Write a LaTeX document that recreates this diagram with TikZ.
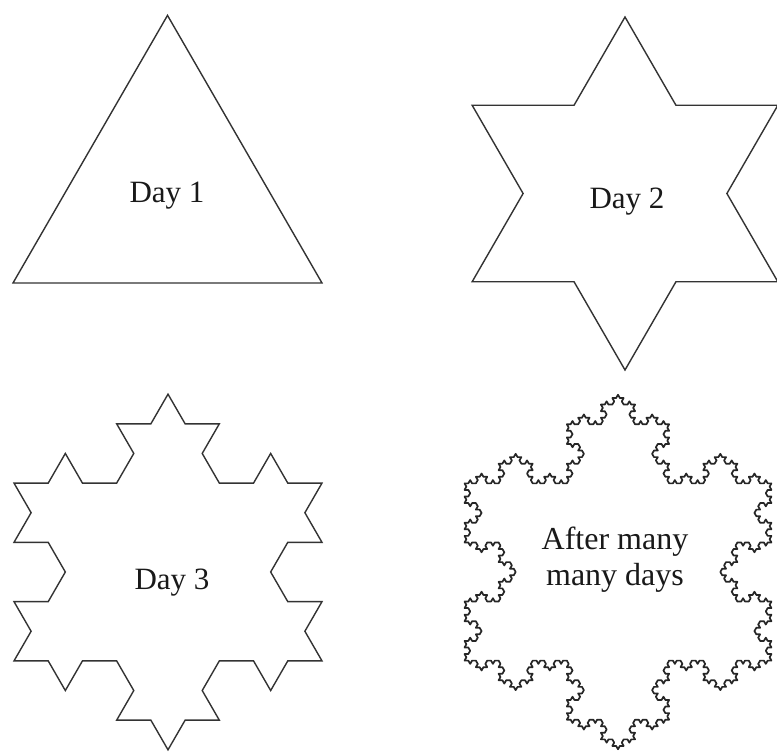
\documentclass[tikz,border=0pt]{standalone}
\usepackage{fontspec}
\setmainfont{Liberation Serif}
\usetikzlibrary{lindenmayersystems}
\pgfdeclarelindenmayersystem{Koch flake}{\rule{F -> F-F++F-F}}
\tikzset{
  flake/.style={draw=black!80, line width=1.4pt, line join=miter},
  daylabel/.style={font=\fontsize{31}{35}\selectfont, text=black!90, inner sep=0pt, align=center}
}
\begin{document}
\begin{tikzpicture}[x=1pt,y=-1pt]
\useasboundingbox[fill=white] (0,0) rectangle (777,752);
% Day 1: plain triangle
\coordinate (t1a) at (13,283);
\coordinate (t1b) at (322,283);
\coordinate (t1c) at (167.5,15.4);
\draw[flake] (t1a) -- (t1b) -- (t1c) -- cycle;
\node[daylabel] (d1) at (167,196) {Day 1};
% Day 2: first step
\coordinate (s2) at (472.15,281.75);
\begin{scope}[shift={(s2)}]
\draw[flake, lindenmayer system={Koch flake, axiom=F++F++F, order=1, step=101.9pt, angle=60}]
  (0,0) lindenmayer system -- cycle;
\end{scope}
\node[daylabel] (d2) at (627,202) {Day 2};
% Day 3: second step
\coordinate (s3) at (14,660.9);
\begin{scope}[shift={(s3)}]
\draw[flake, lindenmayer system={Koch flake, axiom=F++F++F, order=2, step=34.222pt, angle=60}]
  (0,0) lindenmayer system -- cycle;
\end{scope}
\node[daylabel] (d3) at (172,583) {Day 3};
% After many days
\coordinate (s4) at (464.5,660.6);
\begin{scope}[shift={(s4)}]
\draw[flake, draw=black!85, line width=1.7pt, line join=round, lindenmayer system={Koch flake, axiom=F++F++F, order=4, step=3.790pt, angle=60}]
  (0,0) lindenmayer system -- cycle;
\end{scope}
\node[daylabel, font=\fontsize{32}{36}\selectfont] (d4) at (615,560) {After many\\many days};
\end{tikzpicture}
\end{document}
